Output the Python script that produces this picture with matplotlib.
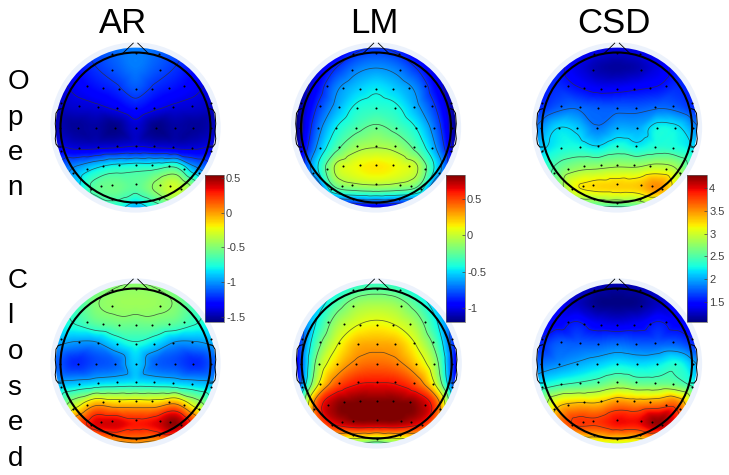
import numpy as np
import matplotlib
matplotlib.use('Agg')
import matplotlib.pyplot as plt
import matplotlib.tri as mtri
from matplotlib.patches import Circle
from matplotlib.cm import ScalarMappable
from matplotlib.colors import Normalize

plt.rcParams['font.family'] = ['Liberation Sans', 'DejaVu Sans']

W, H = 729, 475
R = 75.0  # head radius in pixels

titles = ['AR', 'LM', 'CSD']
open_letters = ['O', 'p', 'e', 'n']
closed_letters = ['C', 'l', 'o', 's', 'e', 'd']

# scalp values, rows top (front) to bottom (back)
ar_open = [
    [-1.3, -1.25, -1.12, -1.08, -1.05, -1.08, -1.12, -1.25, -1.3],
    [-1.4, -1.3, -1.2, -1.12, -1.05, -1.12, -1.2, -1.3, -1.4],
    [-1.42, -1.35, -1.28, -1.22, -1.12, -1.22, -1.28, -1.35, -1.42],
    [-1.45, -1.42, -1.4, -1.35, -1.27, -1.35, -1.4, -1.42, -1.45],
    [-1.45, -1.52, -1.5, -1.55, -1.42, -1.55, -1.5, -1.52, -1.45],
    [-1.35, -1.4, -1.4, -1.38, -1.35, -1.38, -1.4, -1.4, -1.35],
    [-1.2, -1.0, -0.85, -0.75, -0.72, -0.7, -0.65, -1.0, -1.2],
    [-1.1, -0.9, -0.6, -0.55, -0.6, -0.45, -0.3, -0.55, -1.0],
    [-1.0, -0.95, -0.85, -0.75, -0.95, -0.75, -0.6, -0.75, -1.0],
]
lm_open = [
    [-1.15, -1.15, -1.1, -0.9, -0.85, -0.9, -1.1, -1.15, -1.15],
    [-1.15, -1.05, -0.85, -0.7, -0.65, -0.7, -0.85, -1.05, -1.15],
    [-1.2, -0.95, -0.68, -0.55, -0.48, -0.55, -0.68, -0.95, -1.2],
    [-1.2, -0.85, -0.6, -0.42, -0.38, -0.42, -0.6, -0.85, -1.2],
    [-1.2, -0.75, -0.45, -0.3, -0.22, -0.3, -0.45, -0.75, -1.2],
    [-1.15, -0.65, -0.3, -0.1, -0.05, -0.1, -0.3, -0.65, -1.15],
    [-1.1, -0.5, -0.02, 0.1, 0.15, 0.1, -0.02, -0.5, -1.1],
    [-1.2, -0.85, -0.25, -0.15, -0.12, -0.15, -0.25, -0.85, -1.2],
    [-1.2, -1.2, -1.1, -1.05, -1.05, -1.05, -1.1, -1.2, -1.2],
]
csd_open = [
    [1.5, 1.5, 1.5, 1.4, 1.35, 1.4, 1.5, 1.5, 1.5],
    [1.55, 1.55, 1.35, 1.2, 1.15, 1.2, 1.35, 1.55, 1.55],
    [1.5, 1.6, 1.5, 1.4, 1.4, 1.45, 1.5, 1.6, 1.5],
    [1.55, 1.75, 1.8, 1.75, 1.75, 1.75, 1.8, 1.75, 1.55],
    [1.85, 2.15, 2.1, 1.85, 2.0, 2.0, 2.25, 2.2, 1.85],
    [2.05, 2.25, 2.3, 2.2, 2.35, 2.25, 2.35, 2.3, 2.1],
    [2.2, 2.55, 2.75, 2.8, 2.85, 2.85, 2.95, 2.8, 2.25],
    [2.25, 2.65, 3.15, 3.25, 3.28, 3.3, 3.5, 3.0, 2.3],
    [2.3, 2.3, 2.4, 2.45, 2.45, 2.5, 2.6, 2.4, 2.3],
]
ar_closed = [
    [-0.95, -0.8, -0.6, -0.5, -0.48, -0.5, -0.6, -0.8, -0.95],
    [-0.85, -0.7, -0.5, -0.44, -0.43, -0.44, -0.5, -0.7, -0.85],
    [-0.85, -0.72, -0.6, -0.55, -0.55, -0.55, -0.6, -0.72, -0.85],
    [-0.95, -1.0, -1.0, -0.85, -0.75, -0.85, -1.0, -1.0, -0.95],
    [-1.1, -1.22, -1.15, -1.1, -0.88, -1.1, -1.15, -1.22, -1.1],
    [-0.95, -0.9, -0.85, -0.82, -0.8, -0.82, -0.85, -0.9, -0.95],
    [-0.75, -0.35, -0.05, -0.1, -0.1, -0.1, 0.0, -0.35, -0.75],
    [-0.3, 0.1, 0.35, 0.38, 0.3, 0.35, 0.5, 0.15, -0.3],
    [-0.45, -0.35, -0.2, -0.05, 0.0, -0.05, -0.15, -0.35, -0.45],
]
lm_closed = [
    [-0.9, -0.8, -0.6, -0.4, -0.35, -0.4, -0.6, -0.8, -0.9],
    [-0.85, -0.6, -0.3, -0.12, -0.08, -0.12, -0.3, -0.6, -0.85],
    [-0.85, -0.45, -0.1, 0.05, 0.1, 0.05, -0.1, -0.45, -0.85],
    [-0.95, -0.3, 0.05, 0.25, 0.28, 0.25, 0.05, -0.3, -0.95],
    [-1.0, -0.15, 0.2, 0.38, 0.42, 0.38, 0.2, -0.15, -1.0],
    [-0.95, 0.0, 0.45, 0.6, 0.62, 0.6, 0.45, 0.0, -0.95],
    [-0.65, 0.45, 0.78, 0.83, 0.83, 0.83, 0.78, 0.45, -0.65],
    [-0.5, 0.3, 0.65, 0.75, 0.75, 0.75, 0.65, 0.3, -0.5],
    [-0.5, -0.3, -0.1, -0.2, -0.3, -0.2, -0.1, -0.3, -0.5],
]
csd_closed = [
    [1.4, 1.4, 1.35, 1.25, 1.2, 1.25, 1.35, 1.4, 1.4],
    [1.5, 1.45, 1.25, 1.1, 1.08, 1.1, 1.25, 1.45, 1.5],
    [1.5, 1.45, 1.55, 1.4, 1.35, 1.4, 1.55, 1.45, 1.5],
    [1.55, 1.75, 1.75, 1.75, 1.8, 1.75, 1.75, 1.75, 1.55],
    [1.8, 1.9, 2.0, 2.1, 2.2, 2.15, 2.2, 2.3, 1.95],
    [2.15, 2.35, 2.45, 2.55, 2.7, 2.6, 2.6, 2.55, 2.2],
    [2.45, 3.2, 3.35, 3.35, 3.55, 3.5, 3.55, 3.6, 2.7],
    [2.7, 3.5, 3.8, 3.8, 3.95, 3.95, 4.2, 3.8, 2.9],
    [2.8, 2.8, 2.9, 3.0, 3.0, 3.0, 3.0, 2.9, 2.8],
]

# colour limits and colorbar ticks
ar_lim = (-1.57, 0.54)
lm_lim = (-1.19, 0.83)
csd_lim = (1.06, 4.285)
ar_ticks = [-1.5, -1, -0.5, 0, 0.5]
lm_ticks = [-1, -0.5, 0, 0.5]
csd_ticks = [1.5, 2, 2.5, 3, 3.5, 4]

# electrodes
elec_x = [-.31, 0, .31, -.32, .32,
          -.65, -.44, -.22, 0, .22, .44, .65,
          -1.0, -.75, -.50, -.25, 0, .25, .50, .75, 1.0,
          -1.01, -.77, -.53, -.27, 0, .27, .53, .77, 1.01,
          -1.0, -.75, -.50, -.25, 0, .25, .50, .75, 1.0,
          -.84, -.65, -.44, -.22, 0, .22, .44, .65, .84,
          -.60, -.46, -.32, 0, .32, .46, .60,
          -.31, 0, .31]
elec_y = [.98, 1.0, .98, .77, .77,
          .56, .53, .515, .51, .515, .53, .56,
          .33, .29, .27, .255, .255, .255, .27, .29, .33,
          0, 0, 0, 0, 0, 0, 0, 0, 0,
          -.31, -.27, -.26, -.25, -.25, -.25, -.26, -.27, -.31,
          -.61, -.55, -.51, -.50, -.50, -.50, -.51, -.55, -.61,
          -.82, -.78, -.76, -.75, -.76, -.78, -.82,
          -.95, -1.0, -.95]

ear_x = [.99, 1.03, 1.06, 1.07, 1.06, 1.07, 1.06, 1.03, .99]
ear_y = [.25, .24, .19, .05, -.05, -.15, -.22, -.26, -.26]


def upsample(values):
    # smooth the coarse table with matplotlib's cubic interpolator
    g = np.linspace(-1.07, 1.07, 9)
    gx, gy = np.meshgrid(g, g[::-1])
    tri = mtri.Triangulation(gx.ravel(), gy.ravel())
    interp = mtri.CubicTriInterpolator(tri, np.array(values).ravel(), kind='geom')
    f = np.linspace(-1.07, 1.07, 240)
    fx, fy = np.meshgrid(f, f)
    return fx, fy, np.ma.filled(interp(fx, fy), np.nan)


def head(fig, cx, cy, values, lim):
    half = 1.2 * R
    ax = fig.add_axes([(cx - half) / W, 1 - (cy + half) / H, 2 * half / W, 2 * half / H])
    ax.set_xlim(-1.2, 1.2)
    ax.set_ylim(-1.2, 1.2)
    ax.axis('off')
    ax.patch.set_alpha(0)

    ax.add_patch(Circle((0, 0), 1.135, fc='#ecf2fc', ec='none', zorder=1))
    fx, fy, z = upsample(values)
    disc = Circle((0, 0), 1.065, transform=ax.transData)
    im = ax.imshow(z, extent=(-1.07, 1.07, -1.07, 1.07), origin='lower', cmap='jet',
                   vmin=lim[0], vmax=lim[1], interpolation='bilinear', zorder=2)
    im.set_clip_path(disc)
    ax.set_xlim(-1.2, 1.2)
    ax.set_ylim(-1.2, 1.2)
    levels = np.linspace(np.nanmin(z), np.nanmax(z), 8)[1:-1]
    cs = ax.contour(fx, fy, z, levels=levels, colors='#303030', linewidths=0.55,
                    linestyles='solid', alpha=0.75, zorder=3)
    cs.set_clip_path(disc)

    ax.add_patch(Circle((0, 0), 1.0, fc='none', ec='black', lw=1.5, zorder=5))
    ax.plot([-.18, -.03], [.98, 1.125], color='black', lw=0.6, zorder=4)
    ax.plot([.18, .03], [.98, 1.125], color='black', lw=0.6, zorder=4)
    ax.plot(ear_x, ear_y, color='black', lw=0.7, zorder=4)
    ax.plot([-x for x in ear_x], ear_y, color='black', lw=0.7, zorder=4)
    ax.scatter(elec_x, elec_y, s=2.2, c='black', linewidths=0, zorder=6)


def bar(fig, x0, x1, lim, ticks):
    cax = fig.add_axes([x0 / W, 1 - 322 / H, (x1 - x0) / W, 147 / H])
    cb = fig.colorbar(ScalarMappable(Normalize(*lim), 'jet'), cax=cax, ticks=ticks)
    cb.ax.set_yticklabels(['%g' % t for t in ticks])
    cb.ax.tick_params(direction='in', length=2, width=0.5, labelsize=8, pad=1.5,
                      colors='#404040')
    cb.outline.set_linewidth(0.5)
    cb.outline.set_edgecolor('#606060')


fig = plt.figure(figsize=(W / 100, H / 100), dpi=100)

head(fig, 135.5, 127.5, ar_open, ar_lim)
head(fig, 376, 127.5, lm_open, lm_lim)
head(fig, 617, 127.5, csd_open, csd_lim)
head(fig, 135.5, 363.5, ar_closed, ar_lim)
head(fig, 376.7, 363.5, lm_closed, lm_lim)
head(fig, 617, 363.5, csd_closed, csd_lim)

bar(fig, 205, 224, ar_lim, ar_ticks)
bar(fig, 446, 465, lm_lim, lm_ticks)
bar(fig, 687, 707, csd_lim, csd_ticks)

for name, x in zip(titles, [123, 374, 614]):
    fig.text(x / W, 1 - 33 / H, name, fontsize=25, ha='center', va='baseline')
for ch, y in zip(open_letters, [89, 125, 160, 195]):
    fig.text(7.5 / W, 1 - y / H, ch, fontsize=20, ha='left', va='baseline')
for ch, y in zip(closed_letters, [288, 323, 359, 395, 430, 466]):
    fig.text(7.5 / W, 1 - y / H, ch, fontsize=20, ha='left', va='baseline')

fig.savefig('out.png', dpi=100)
